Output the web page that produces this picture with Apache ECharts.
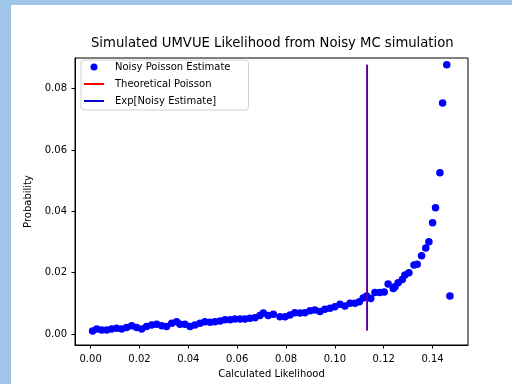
<!DOCTYPE html>
<html>
<head>
<meta charset="utf-8">
<script src="https://cdn.jsdelivr.net/npm/echarts@6/dist/echarts.min.js"></script>
<style>
html,body{margin:0;padding:0;}
body{width:512px;height:384px;background:#9fc5e9;position:relative;overflow:hidden;}
#bg{position:absolute;left:11px;top:5px;width:501px;height:379px;background:#fff;}
#chart{position:absolute;left:0;top:0;width:512px;height:384px;}
</style>
</head>
<body>
<div id="bg"></div>
<div id="chart"></div>
<script>
const titleText = "Simulated UMVUE Likelihood from Noisy MC simulation";
const xName = "Calculated Likelihood";
const yName = "Probability";
const legendNames = ["Noisy Poisson Estimate", "Theoretical Poisson", "Exp[Noisy Estimate]"];
const xTicks = [0, 0.02, 0.04, 0.06, 0.08, 0.10, 0.12, 0.14];
const yTicks = [0, 0.02, 0.04, 0.06, 0.08];

const likelihood = [
0.0008,0.0025,0.0045,0.0066,0.0086,0.0106,0.0127,0.0147,0.0168,0.0188,
0.0209,0.0229,0.0250,0.0270,0.0291,0.0311,0.0332,0.0352,0.0366,0.0386,
0.0407,0.0427,0.0448,0.0468,0.0489,0.0509,0.0530,0.0550,0.0571,0.0591,
0.0612,0.0632,0.0652,0.0673,0.0693,0.0707,0.0727,0.0748,0.0775,0.0796,
0.0816,0.0836,0.0857,0.0877,0.0898,0.0918,0.0939,0.0959,0.0980,0.1000,
0.1021,0.1041,0.1062,0.1082,0.1100,0.1116,0.1130,0.1147,0.1164,0.1184,
0.1202,0.1218,0.1239,0.1246,0.1259,0.1276,0.1287,0.1303,0.1324,0.1337,
0.1355,0.1372,0.1385,0.1400,0.1412,0.1430,0.1441,0.1458,0.1471
];
const probability = [
0.0010,0.0016,0.0013,0.0013,0.0016,0.0019,0.0016,0.0021,0.0027,0.0021,
0.0016,0.0024,0.0029,0.0032,0.0027,0.0024,0.0035,0.0040,0.0032,0.0032,
0.0024,0.0029,0.0035,0.0040,0.0038,0.0040,0.0042,0.0046,0.0046,0.0049,
0.0049,0.0049,0.0051,0.0053,0.0060,0.0068,0.0060,0.0064,0.0056,0.0056,
0.0062,0.0069,0.0068,0.0069,0.0076,0.0078,0.0073,0.0081,0.0084,0.0089,
0.0097,0.0091,0.0100,0.0100,0.0105,0.0117,0.0124,0.0116,0.0135,0.0135,
0.0137,0.0163,0.0148,0.0154,0.0167,0.0178,0.0192,0.0200,0.0225,0.0227,
0.0255,0.0280,0.0301,0.0363,0.0412,0.0526,0.0753,0.0878,0.0124
];
const expectedX = 0.1132;
const lineYRange = [0.0011, 0.0878];

const font = "DejaVu Sans";
const points = likelihood.map((x, i) => [x, probability[i]]);
const vline = lineYRange.map(y => [expectedX, y]);
const lineIcon = 'path://M0,0H40V4H0Z';

const chart = echarts.init(document.getElementById('chart'), null, {renderer: 'canvas'});
chart.setOption({
  backgroundColor: 'transparent',
  animation: false,
  title: {
    text: titleText,
    left: 86, top: 32,
    textStyle: {fontFamily: font, fontSize: 13.2, fontWeight: 'normal', color: '#000'}
  },
  grid: {left: 75, right: 44, top: 58, bottom: 39, show: true, borderColor: '#000', borderWidth: 1, backgroundColor: 'transparent'},
  legend: {
    orient: 'vertical',
    left: 81, top: 60,
    data: [
      {name: legendNames[0], icon: 'circle', itemStyle: {color: '#0000ff', opacity: 1}},
      {name: legendNames[1], icon: lineIcon, itemStyle: {color: '#ff0000'}},
      {name: legendNames[2], icon: lineIcon, itemStyle: {color: '#0000c8'}}
    ],
    symbolKeepAspect: true,
    itemWidth: 20, itemHeight: 7, itemGap: 7,
    padding: [2, 18, 4, 3],
    backgroundColor: '#fff',
    borderColor: '#d0d0d0', borderWidth: 1, borderRadius: 3,
    textStyle: {fontFamily: font, fontSize: 10, color: '#000', padding: [0, 0, 0, 6]}
  },
  xAxis: {
    type: 'value', min: -0.0064, max: 0.1545,
    name: xName, nameLocation: 'middle', nameGap: 24,
    nameTextStyle: {fontFamily: font, fontSize: 10, color: '#000'},
    axisLine: {show: true, onZero: false, lineStyle: {color: '#000', width: 1}},
    axisTick: {show: true, inside: false, length: 3.5, customValues: xTicks, lineStyle: {color: '#000'}},
    axisLabel: {customValues: xTicks, fontFamily: font, fontSize: 10, color: '#000', margin: 9,
      formatter: v => v.toFixed(2)},
    splitLine: {show: false}
  },
  yAxis: {
    type: 'value', min: -0.0036, max: 0.0900,
    name: yName, nameLocation: 'middle', nameGap: 31, nameRotate: 90,
    nameTextStyle: {fontFamily: font, fontSize: 10, color: '#000'},
    axisLine: {show: true, onZero: false, lineStyle: {color: '#000', width: 1}},
    axisTick: {show: true, inside: false, length: 3.5, customValues: yTicks, lineStyle: {color: '#000'}},
    axisLabel: {customValues: yTicks, fontFamily: font, fontSize: 10, color: '#000', margin: 8,
      formatter: v => v.toFixed(2)},
    splitLine: {show: false}
  },
  series: [
    {
      name: legendNames[0], type: 'scatter', data: points,
      symbol: 'circle', symbolSize: 7.5,
      itemStyle: {color: '#0000ff', opacity: 1}, z: 3
    },
    {
      name: legendNames[1], type: 'line', data: vline,
      symbol: 'none', showSymbol: false,
      lineStyle: {color: '#ff0000', width: 1.8},
      itemStyle: {color: '#ff0000'}, z: 4
    },
    {
      name: legendNames[2], type: 'line', data: vline,
      symbol: 'none', showSymbol: false,
      lineStyle: {color: '#0000ff', width: 1.8, opacity: 0.75},
      itemStyle: {color: '#0000c8'}, z: 5
    }
  ]
});
</script>
</body>
</html>
